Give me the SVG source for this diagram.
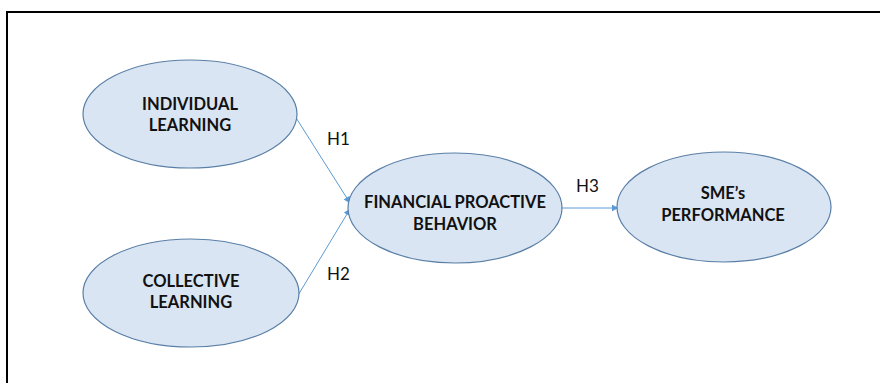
<svg xmlns="http://www.w3.org/2000/svg" width="880" height="383" viewBox="0 0 880 383">
<defs>
<style>
.node ellipse{fill:#dae5f4;stroke:#5a7fa6;stroke-width:1.2}
.lbl{font-family:Lato,"Liberation Sans",sans-serif;font-weight:bold;font-size:16.5px;fill:#111;text-anchor:middle}
.h{font-family:Lato,"Liberation Sans",sans-serif;font-size:17px;fill:#111}
.conn line{stroke:#5b9bd5;stroke-width:1;fill:none}
</style>
<marker id="arr" viewBox="0 0 10 10" refX="9" refY="5" markerWidth="7" markerHeight="7" markerUnits="userSpaceOnUse" orient="auto">
<path d="M0,0 L10,5 L0,10 Z" fill="#5b9bd5"/>
</marker>
</defs>
<rect width="880" height="383" fill="#fff"/>
<path d="M7,383 V12 H880" fill="none" stroke="#000" stroke-width="2"/>
<g class="conn">
<line x1="293" y1="113" x2="350" y2="203" marker-end="url(#arr)"/>
<line x1="294" y1="302" x2="350" y2="209" marker-end="url(#arr)"/>
<line x1="562" y1="208" x2="618" y2="208" marker-end="url(#arr)"/>
</g>
<g id="individual" class="node">
<ellipse cx="190" cy="114" rx="107" ry="54"/>
<text class="lbl" x="190" y="110">INDIVIDUAL</text>
<text class="lbl" x="190" y="131">LEARNING</text>
</g>
<g id="collective" class="node">
<ellipse cx="191" cy="293" rx="108" ry="54"/>
<text class="lbl" x="191" y="287">COLLECTIVE</text>
<text class="lbl" x="191" y="308">LEARNING</text>
</g>
<g id="financial" class="node">
<ellipse cx="455" cy="208" rx="107" ry="55"/>
<text class="lbl" x="455" y="208">FINANCIAL PROACTIVE</text>
<text class="lbl" x="455" y="230">BEHAVIOR</text>
</g>
<g id="sme" class="node">
<ellipse cx="724" cy="207" rx="107" ry="55"/>
<text class="lbl" x="723" y="199">SME’s</text>
<text class="lbl" x="723" y="221">PERFORMANCE</text>
</g>
<g id="labels">
<text class="h" x="327" y="145">H1</text>
<text class="h" x="327" y="280">H2</text>
<text class="h" x="576" y="192">H3</text>
</g>
</svg>
